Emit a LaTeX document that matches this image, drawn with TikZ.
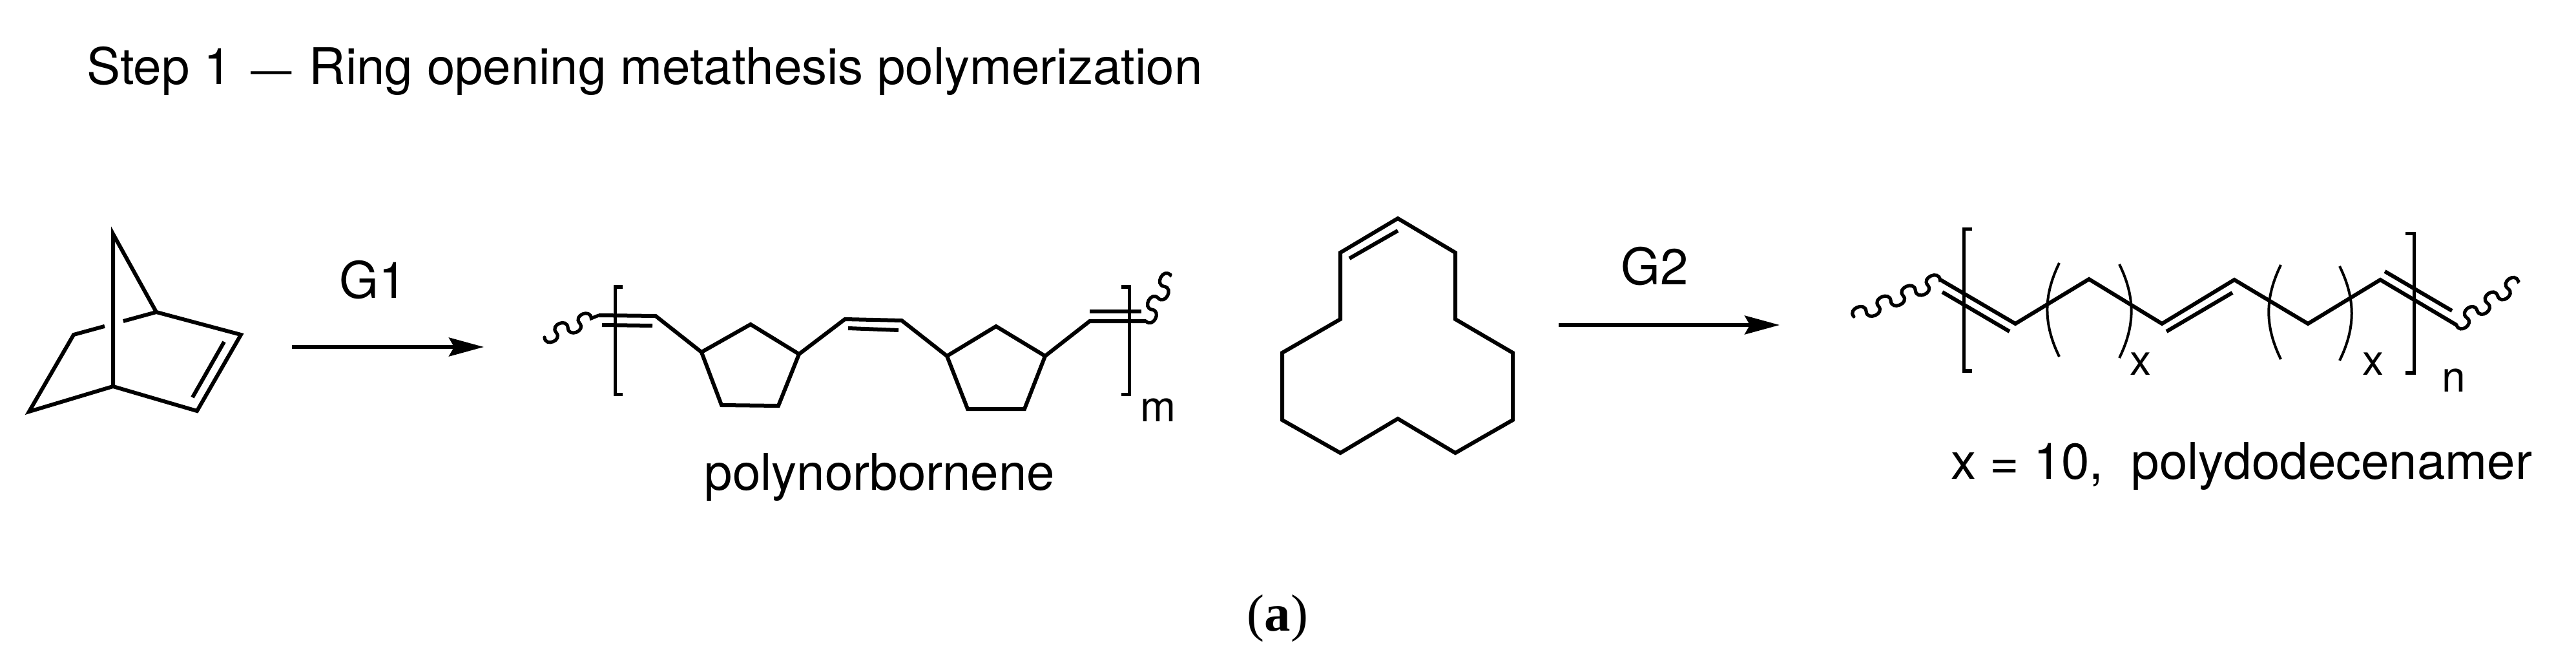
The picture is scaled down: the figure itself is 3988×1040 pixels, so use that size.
\documentclass[tikz,border=0pt]{standalone}
\usepackage{fontspec}
\setmainfont{TeX Gyre Heros}
\newfontfamily\captionSerif{Liberation Serif}
\usetikzlibrary{calc}
\usetikzlibrary{arrows.meta}
\usetikzlibrary{decorations}
\pgfdeclaredecoration{chemWave}{up}{
	\state{up}[switch if less than=.5\pgfdecorationsegmentlength to final, width=.5\pgfdecorationsegmentlength, next state=down]{
		\pgfpathcurveto{\pgfpoint{-0.05cm}{\pgfdecorationsegmentamplitude}}
						{\pgfpoint{.5\pgfdecorationsegmentlength+0.05cm}{\pgfdecorationsegmentamplitude}}
						{\pgfpoint{.5\pgfdecorationsegmentlength}{0pt}}
	}
	\state{down}[switch if less than=.5\pgfdecorationsegmentlength to final, width=.5\pgfdecorationsegmentlength, next state=up]{
		\pgfpathcurveto{\pgfpoint{-0.05cm}{-\pgfdecorationsegmentamplitude}}
						{\pgfpoint{.5\pgfdecorationsegmentlength+0.05cm}{-\pgfdecorationsegmentamplitude}}
						{\pgfpoint{.5\pgfdecorationsegmentlength}{0pt}}
	}
	\state{final}{
		\pgfpathlineto{\pgfpointdecoratedpathlast}
	}
}
\tikzset{
	bond/.style={line width=0.06cm},
	bracket/.style={line width=0.05cm},
	thinBond/.style={line width=0.04cm},
	reaction/.style={line width=0.05cm, -{Stealth[length=0.54cm, width=0.29cm, inset=0.08cm]}},
	wave/.style={line width=0.052cm, line cap=round, decorate, decoration={chemWave, amplitude=0.15cm}},
	waveMirror/.style={wave, decoration={mirror}},
	chem/.style={inner sep=0pt, anchor=base, font=\fontsize{22.2}{26}\selectfont},
	subLabel/.style={inner sep=0pt, anchor=base, font=\fontsize{18.8}{22}\selectfont}
}
\newcommand{\squareBracket}[3]{%
		\draw [bracket] ($#1 + (#3,0)$) -- #1 -- #2 -- ++(#3,0);
}
\newcommand{\cycloPentane}[5]{%
		\draw [bond] #1 -- #2 -- #3 -- #4 -- #5 -- cycle;
}
\begin{document}
\begin{tikzpicture}[x=0.01cm, y=-0.01cm]
		\useasboundingbox (0,0) rectangle (3988,1040);

		\node (title) [chem, anchor=base west] at (134,131) {Step 1\hspace{0.3cm}{\fontsize{18}{26}\selectfont —}\hspace{0.05cm} Ring opening metathesis polymerization};

		% norbornene
		\coordinate (nbTop) at (175,362);
		\coordinate (nbBot) at (175,598);
		\coordinate (nbBr) at (242,483);
		\coordinate (nbUr) at (373,518);
		\coordinate (nbLr) at (305,636);
		\coordinate (nbLl) at (45,637);
		\coordinate (nbUl) at (114,518);
		\coordinate (nbDa) at (347,529);
		\coordinate (nbDb) at (298,615);

		\draw [bond] (nbBot) -- (nbTop) -- (nbBr) -- (nbUr) -- (nbLr) -- (nbBot) -- (nbLl) -- (nbUl) -- ($(nbUl)!0.375!(nbBr)$);
		\draw [bond] ($(nbUl)!0.6!(nbBr)$) -- (nbBr);
		\draw [bond] (nbDa) -- (nbDb);

		\coordinate (gaStart) at (452,537);
		\coordinate (gaEnd) at (749,537);
		\draw [reaction] (gaStart) -- (gaEnd);
		\node (gaLabel) [chem] at (578,462) {G1};

		% polynorbornene
		\coordinate (pnWa) at (843,522);
		\coordinate (pnA) at (927,488);
		\coordinate (pnB) at (1015,489);
		\coordinate (pnAa) at (932,503);
		\coordinate (pnBb) at (1010,504);
		\coordinate (raA) at (1086,545);
		\coordinate (raB) at (1162,502);
		\coordinate (raC) at (1237,548);
		\coordinate (raD) at (1205,628);
		\coordinate (raE) at (1117,627);
		\coordinate (pnC) at (1308,494);
		\coordinate (pnD) at (1396,496);
		\coordinate (pnCc) at (1313,508);
		\coordinate (pnDd) at (1391,511);
		\coordinate (rbA) at (1466,551);
		\coordinate (rbB) at (1542,505);
		\coordinate (rbC) at (1618,551);
		\coordinate (rbD) at (1586,633);
		\coordinate (rbE) at (1498,633);
		\coordinate (pnF) at (1687,497);
		\coordinate (pnG) at (1774,497);
		\coordinate (pnFf) at (1687,482);
		\coordinate (pnGg) at (1767,482);
		\coordinate (pnWb) at (1812,425);

		\draw [waveMirror, decoration={segment length=0.39cm}] (pnWa) -- (pnA);
		\draw [bond] (pnA) -- (pnB) -- (raA);
		\draw [bond] (pnAa) -- (pnBb);
		\cycloPentane{(raA)}{(raB)}{(raC)}{(raD)}{(raE)}
		\draw [bond] (raC) -- (pnC) -- (pnD) -- (rbA);
		\draw [bond] (pnCc) -- (pnDd);
		\cycloPentane{(rbA)}{(rbB)}{(rbC)}{(rbD)}{(rbE)}
		\draw [bond] (rbC) -- (pnF) -- (pnG);
		\draw [bond] (pnFf) -- (pnGg);
		\draw [waveMirror, decoration={segment length=0.404cm}] (pnG) -- (pnWb);

		\coordinate (pbA) at (952,444);
		\coordinate (pbB) at (952,610);
		\coordinate (pbC) at (1748,444);
		\coordinate (pbD) at (1748,610);
		\squareBracket{(pbA)}{(pbB)}{12}
		\squareBracket{(pbC)}{(pbD)}{-12}

		\node (mLabel) [subLabel] at (1793,652) {m};
		\node (pnLabel) [chem] at (1362,758) {polynorbornene};

		% cyclododecene
		\coordinate (cdA) at (2164,338);
		\coordinate (cdB) at (2075,391);
		\coordinate (cdC) at (2075,494);
		\coordinate (cdD) at (1985,546);
		\coordinate (cdE) at (1985,650);
		\coordinate (cdF) at (2075,701);
		\coordinate (cdG) at (2164,648);
		\coordinate (cdH) at (2253,701);
		\coordinate (cdI) at (2342,650);
		\coordinate (cdJ) at (2342,546);
		\coordinate (cdK) at (2253,494);
		\coordinate (cdL) at (2253,391);
		\coordinate (cdDa) at (2089,400);
		\coordinate (cdDb) at (2164,357);

		\draw [bond] (cdA) -- (cdB) -- (cdC) -- (cdD) -- (cdE) -- (cdF) -- (cdG) -- (cdH) -- (cdI) -- (cdJ) -- (cdK) -- (cdL) -- cycle;
		\draw [bond] (cdDa) -- (cdDb);

		\coordinate (gbStart) at (2413,503);
		\coordinate (gbEnd) at (2755,503);
		\draw [reaction] (gbStart) -- (gbEnd);
		\node (gbLabel) [chem] at (2562,441) {G2};

		% polydodecenamer
		\coordinate (pdWa) at (2870,490);
		\coordinate (pdA) at (3004,433);
		\coordinate (pdB) at (3120,501);
		\coordinate (pdC) at (3234,432);
		\coordinate (pdD) at (3347,501);
		\coordinate (pdE) at (3459,433);
		\coordinate (pdF) at (3573,501);
		\coordinate (pdG) at (3685,433);
		\coordinate (pdH) at (3803,503);
		\coordinate (pdWb) at (3899,435);

		\draw [wave, decoration={segment length=0.414cm}] (pdWa) -- (pdA);
		\draw [bond] (pdA) -- (pdB) -- (pdC) -- (pdD) -- (pdE) -- (pdF) -- (pdG) -- (pdH);
		\draw [waveMirror, decoration={segment length=0.39cm}] (pdH) -- (pdWb);

		\coordinate (pdAa) at (3007,452);
		\coordinate (pdBb) at (3111,513);
		\coordinate (pdDd) at (3354,513);
		\coordinate (pdEe) at (3456,453);
		\coordinate (pdGg) at (3692,420);
		\coordinate (pdHh) at (3796,481);
		\draw [bond] (pdAa) -- (pdBb);
		\draw [bond] (pdDd) -- (pdEe);
		\draw [bond] (pdGg) -- (pdHh);

		\coordinate (qbA) at (3040,355);
		\coordinate (qbB) at (3040,574);
		\coordinate (qbC) at (3737,362);
		\coordinate (qbD) at (3737,577);
		\squareBracket{(qbA)}{(qbB)}{13}
		\squareBracket{(qbC)}{(qbD)}{-13}

		\coordinate (paA) at (3188,407);
		\coordinate (paB) at (3188,552);
		\coordinate (paC) at (3281,409);
		\coordinate (paD) at (3281,554);
		\coordinate (paE) at (3531,410);
		\coordinate (paF) at (3531,556);
		\coordinate (paG) at (3622,412);
		\coordinate (paH) at (3622,558);
		\draw [thinBond] (paA) to [bend right=26] (paB);
		\draw [thinBond] (paC) to [bend left=26] (paD);
		\draw [thinBond] (paE) to [bend right=26] (paF);
		\draw [thinBond] (paG) to [bend left=26] (paH);

		\node (xaLabel) [subLabel] at (3314,580) {x};
		\node (xbLabel) [subLabel] at (3674,580) {x};
		\node (nLabel) [subLabel] at (3799,606) {n};
		\node (pdLabel) [chem] at (3470,741) {x = 10,\ \ polydodecenamer};

		\node (subCaption) [chem, font=\captionSerif\fontsize{23}{26}\selectfont] at (1978,976) {(\textbf{a})};
	\end{tikzpicture}
\end{document}
